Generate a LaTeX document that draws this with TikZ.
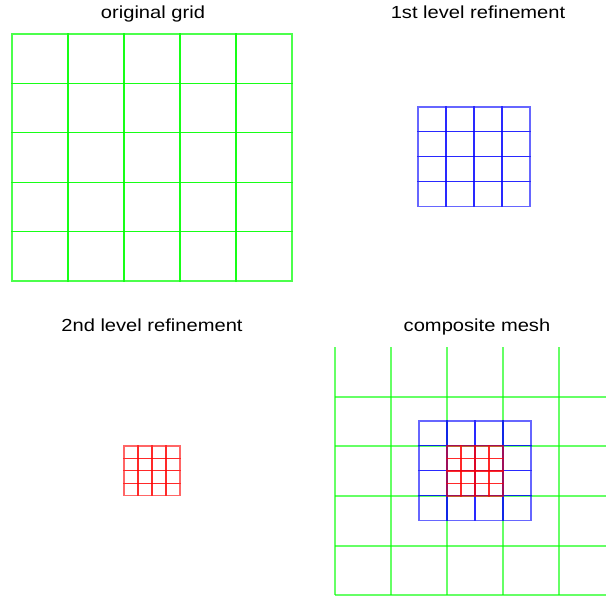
\documentclass[tikz,border=0pt]{standalone}
\usepackage{fontspec}
\newfontfamily\titlefont[FakeStretch=1.15]{Liberation Sans}
\definecolor{gr}{RGB}{0,255,0}
\definecolor{bl}{RGB}{0,0,255}
\definecolor{rd}{RGB}{255,0,0}
\begin{document}
\begin{tikzpicture}[x=1pt,y=-1pt,
  title/.style={anchor=base,inner sep=0pt,font=\titlefont\fontsize{17.5}{20}\selectfont},
  gcell/.style={draw=gr,line width=1.3pt,draw opacity=0.7},
  bcell/.style={draw=bl,line width=1.3pt,draw opacity=0.6},
  rcell/.style={draw=rd,line width=1.3pt,draw opacity=0.6},
  gline/.style={draw=gr,line width=1.4pt,draw opacity=0.6}]
\useasboundingbox (0,0) rectangle (606,599);
% titles
\node[title] (t1) at (153,19) {original grid};
\node[title] (t2) at (478,19) {1st level refinement};
\node[title] (t3) at (152,331) {2nd level refinement};
\node[title] (t4) at (477,331) {composite mesh};
% original grid
\foreach \i in {0,...,4} \foreach \j in {0,...,4}
  \path[gcell] ({12+56*\i},{34+49.4*\j}) rectangle ++(56,49.4);
% 1st level
\foreach \i in {0,...,3} \foreach \j in {0,...,3}
  \path[bcell] ({418+28*\i},{107+24.8*\j}) rectangle ++(28,24.8);
% 2nd level
\foreach \i in {0,...,3} \foreach \j in {0,...,3}
  \path[rcell] ({124+14*\i},{446+12.4*\j}) rectangle ++(14,12.4);
% composite
\foreach \x in {335,391,447,503,559}
  \path[gline] (\x,347) -- (\x,595);
\foreach \y in {397,446,496,546,595}
  \path[gline] (335,\y) -- (606,\y);
\foreach \i in {0,...,3} \foreach \j in {0,...,3}
  \path[bcell] ({419+28*\i},{421+24.8*\j}) rectangle ++(28,24.8);
\foreach \i in {0,...,3} \foreach \j in {0,...,3}
  \path[rcell] ({447+14*\i},{446+12.5*\j}) rectangle ++(14,12.5);
\end{tikzpicture}
\end{document}
